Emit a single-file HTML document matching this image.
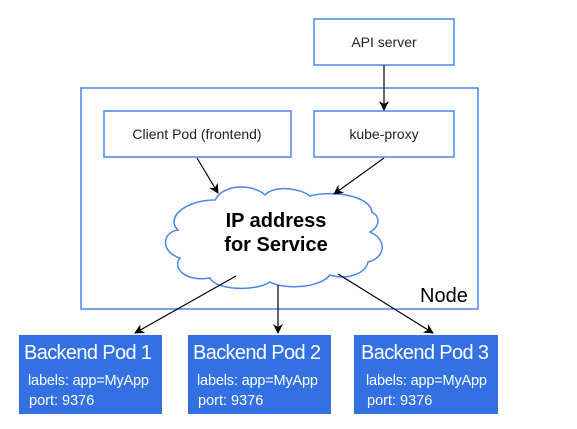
<!DOCTYPE html>
<html><head><style>
body{margin:0;background:#fff;}
</style></head><body>
<svg width="577" height="429" viewBox="0 0 577 429" xmlns="http://www.w3.org/2000/svg" style="display:block;font-family:'Liberation Sans','DejaVu Sans',sans-serif">
<defs><marker id="a" markerWidth="10" markerHeight="10" refX="9" refY="5" orient="auto" markerUnits="userSpaceOnUse"><path d="M0,0 L10,5 L0,10 L3,5 z" fill="#000"/></marker></defs>
<g fill="#fff" stroke="#4a86e8" stroke-width="1.5">
<rect x="314" y="19" width="140" height="46"/>
<rect x="81" y="88" width="397" height="221"/>
<rect x="104" y="111" width="187" height="46"/>
<rect x="314" y="111" width="140" height="46"/>
<path d="M215,200 C225,182 255,185 265,195 C275,185 300,188 310,196 C330,190 370,195 372,212 C382,218 378,228 370,232 C388,240 385,258 368,262 C365,275 345,280 330,275 C320,288 285,290 270,282 C255,292 215,290 210,278 C185,282 172,268 180,258 C160,252 162,232 178,230 C165,218 185,200 215,200 z"/>
</g>
<g stroke="#000" stroke-width="1.2" fill="none" marker-end="url(#a)">
<line x1="384" y1="65" x2="384" y2="110"/>
<line x1="197" y1="158" x2="218" y2="193"/>
<line x1="384" y1="158" x2="334" y2="194"/>
<line x1="236" y1="276" x2="135" y2="333"/>
<line x1="278" y1="285" x2="278" y2="333"/>
<line x1="338" y1="274" x2="433" y2="333"/>
</g>
<g font-size="14" fill="#222" text-anchor="middle">
<text x="384" y="47">API server</text>
<text x="197" y="139">Client Pod (frontend)</text>
<text x="384" y="139">kube-proxy</text>
</g>
<g font-size="20" font-weight="bold" fill="#000" text-anchor="middle">
<text x="276" y="227">IP address</text>
<text x="276" y="251">for Service</text>
</g>
<text x="420" y="302" font-size="20" fill="#000">Node</text>
<g fill="#3371e3">
<rect x="19" y="335" width="143" height="79"/>
<rect x="188" y="335" width="143" height="79"/>
<rect x="354" y="335" width="144" height="79"/>
</g>
<g fill="#fff">
<text x="24" y="359" font-size="20" textLength="128">Backend Pod 1</text>
<text x="28" y="385" font-size="14.5" textLength="121">labels: app=MyApp</text>
<text x="29" y="405" font-size="14.5">port: 9376</text>
<text x="193" y="359" font-size="20" textLength="128">Backend Pod 2</text>
<text x="197" y="385" font-size="14.5" textLength="121">labels: app=MyApp</text>
<text x="198" y="405" font-size="14.5">port: 9376</text>
<text x="361" y="359" font-size="20" textLength="128">Backend Pod 3</text>
<text x="366" y="385" font-size="14.5" textLength="121">labels: app=MyApp</text>
<text x="367" y="405" font-size="14.5">port: 9376</text>
</g>
</svg>
</body></html>
